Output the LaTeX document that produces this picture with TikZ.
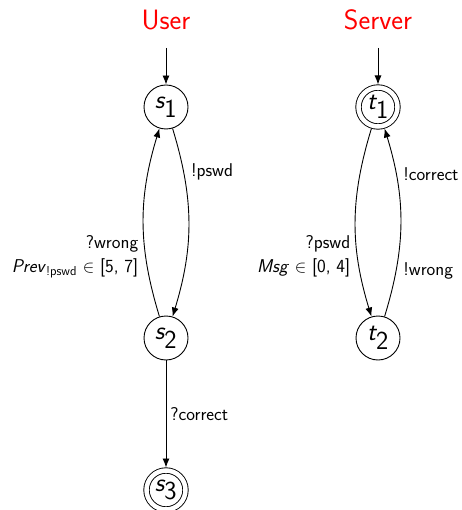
\documentclass[tikz,border=0pt]{standalone}
\usetikzlibrary{arrows.meta}
\renewcommand\familydefault{\sfdefault}
\begin{document}
\begin{tikzpicture}[x=1pt,y=-1pt,
  every path/.style={line width=0.9pt},
  state/.style={circle,draw,minimum size=44pt,inner sep=0pt,
    font=\fontsize{26}{30}\selectfont},
  accepting/.style={state,double,double distance=4.5pt,minimum size=39pt,outer sep=3pt},
  title/.style={text=red,font=\fontsize{28}{32}\selectfont},
  lbl/.style={font=\fontsize{18.5}{24}\selectfont,inner sep=7pt},
  trans/.style={-{Latex[length=9pt,width=7pt]}}]
\useasboundingbox (0,0) rectangle (461,510);

% automaton of the user
\node[title] (user) at (166,20) {User};
\node[state] (s1) at (166,107) {$\textit{s}_{\textsf{1}}$};
\node[state] (s2) at (166,338) {$\textit{s}_{\textsf{2}}$};
\node[accepting] (s3) at (166,490) {$\textit{s}_{\textsf{3}}$};
\coordinate (u0) at (166,48);

% automaton of the server
\node[title] (server) at (378,20) {Server};
\node[accepting] (t1) at (378,107) {$\textit{t}_{\textsf{1}}$};
\node[state] (t2) at (378,338) {$\textit{t}_{\textsf{2}}$};
\coordinate (v0) at (378,48);

% transitions
\draw[trans] (u0) -- (s1);
\draw[trans] (s1) to[bend left=17]
  node[lbl,pos=0.22,right] {!pswd} (s2);
\draw[trans] (s2) to[bend left=17]
  node[lbl,pos=0.31,left,align=right] {?wrong\\\textit{Prev}\textsubscript{!pswd} $\in$ [5, 7]} (s1);
\draw[trans] (s2) -- node[lbl,right,inner sep=4pt] {?correct} (s3);

\draw[trans] (v0) -- (t1);
\draw[trans] (t1) to[bend right=17]
  node[lbl,pos=0.69,left,align=right] {?pswd\\\textit{Msg} $\in$ [0, 4]} (t2);
\draw[trans] (t2) to[bend right=17]
  node[lbl,pos=0.23,right] {!wrong}
  node[lbl,pos=0.77,right] {!correct} (t1);
\end{tikzpicture}
\end{document}
